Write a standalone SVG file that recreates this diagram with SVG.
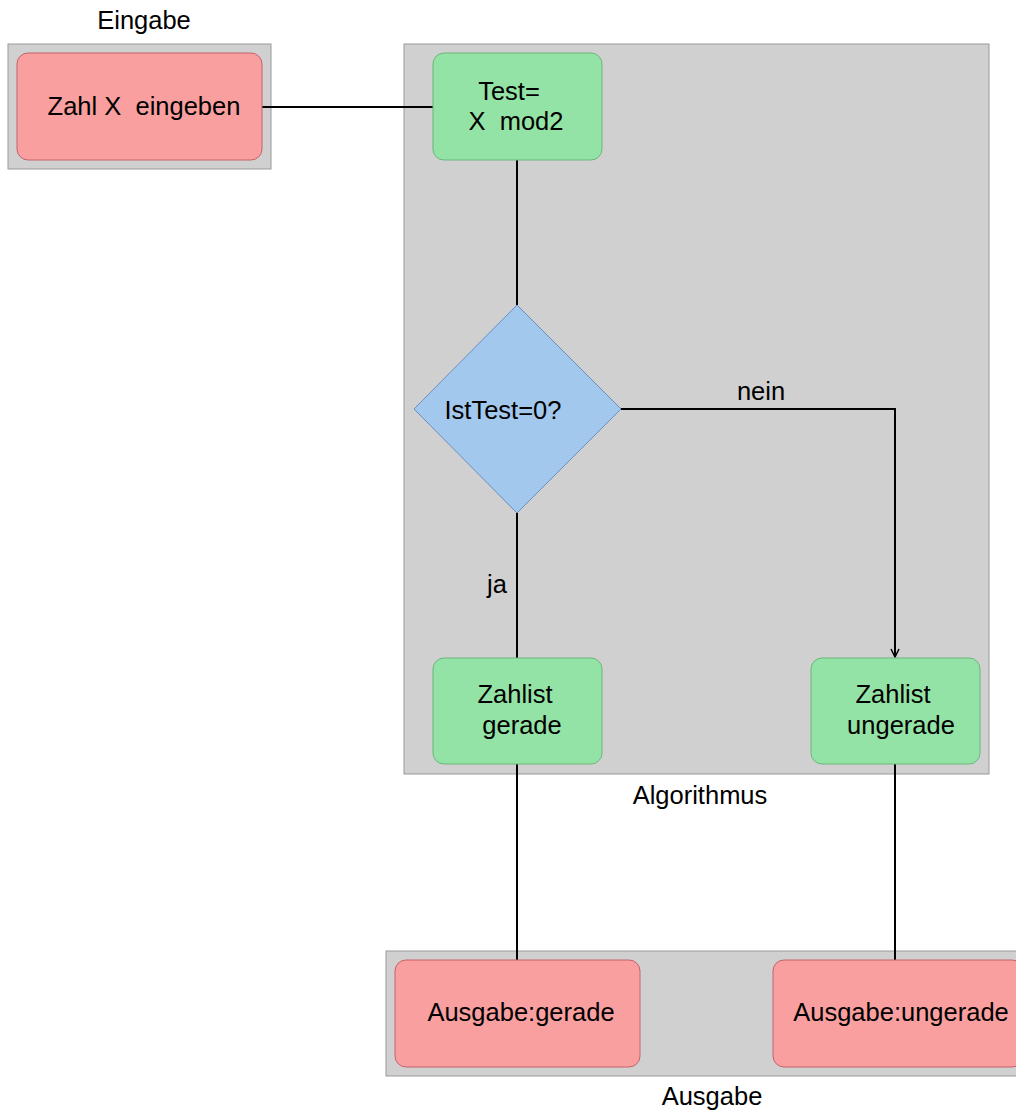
<svg xmlns="http://www.w3.org/2000/svg" width="1016" height="1112" viewBox="0 0 1016 1112">
<style>
text{font-family:"Liberation Sans",Arial,sans-serif;font-size:25.5px;fill:#000;text-anchor:middle}
.cont{fill:#d0d0d0;stroke:#999;stroke-width:1}
.red{fill:#f99f9f;stroke:#c5626a;stroke-width:1}
.green{fill:#94e3a6;stroke:#6cb57b;stroke-width:1}
.blue{fill:#a3c8ee;stroke:#6c8ebf;stroke-width:1}
.edge{fill:none;stroke:#000;stroke-width:2}
</style>
<defs>
<marker id="arr" viewBox="0 0 10 10" refX="9" refY="5" markerWidth="10" markerHeight="10" markerUnits="userSpaceOnUse" orient="auto">
<path d="M1,1 L9,5 L1,9" fill="none" stroke="#000" stroke-width="1.5"/>
</marker>
</defs>
<g id="eingabe-container">
<rect class="cont" x="8" y="44" width="263" height="125"/>
<text x="144" y="29">Eingabe</text>
</g>
<g id="algorithmus-container">
<rect class="cont" x="404" y="44" width="585" height="730"/>
<text x="700" y="804">Algorithmus</text>
</g>
<g id="ausgabe-container">
<rect class="cont" x="386" y="951" width="640" height="125"/>
<text x="712" y="1105">Ausgabe</text>
</g>
<g id="connectors">
<path class="edge" d="M262,107 H433"/>
<path class="edge" d="M517,160 V305"/>
<path class="edge" d="M621,409 H895 V657" marker-end="url(#arr)"/>
<path class="edge" d="M517,513 V658"/>
<path class="edge" d="M517,764 V960"/>
<path class="edge" d="M895,764 V960"/>
<text x="761" y="400">nein</text>
<text x="497" y="593">ja</text>
</g>
<g id="zahl-eingeben">
<rect class="red" x="17" y="53" width="245" height="107" rx="11"/>
<text x="144" y="115" xml:space="preserve">Zahl X  eingeben</text>
</g>
<g id="test">
<rect class="green" x="433" y="53" width="169" height="107" rx="11"/>
<text x="509" y="100">Test=</text>
<text x="516" y="130" xml:space="preserve">X  mod2</text>
</g>
<g id="ist-test">
<polygon class="blue" points="517,305 621,409 517,513 414,409"/>
<text x="503" y="419">IstTest=0?</text>
</g>
<g id="zahl-gerade">
<rect class="green" x="433" y="658" width="169" height="106" rx="11"/>
<text x="515" y="703">Zahlist</text>
<text x="522" y="734">gerade</text>
</g>
<g id="zahl-ungerade">
<rect class="green" x="811" y="658" width="169" height="106" rx="11"/>
<text x="893" y="703">Zahlist</text>
<text x="901" y="734">ungerade</text>
</g>
<g id="ausgabe-gerade">
<rect class="red" x="395" y="960" width="245" height="107" rx="11"/>
<text x="521" y="1021">Ausgabe:gerade</text>
</g>
<g id="ausgabe-ungerade">
<rect class="red" x="773" y="960" width="250" height="107" rx="11"/>
<text x="901" y="1021">Ausgabe:ungerade</text>
</g>
</svg>
